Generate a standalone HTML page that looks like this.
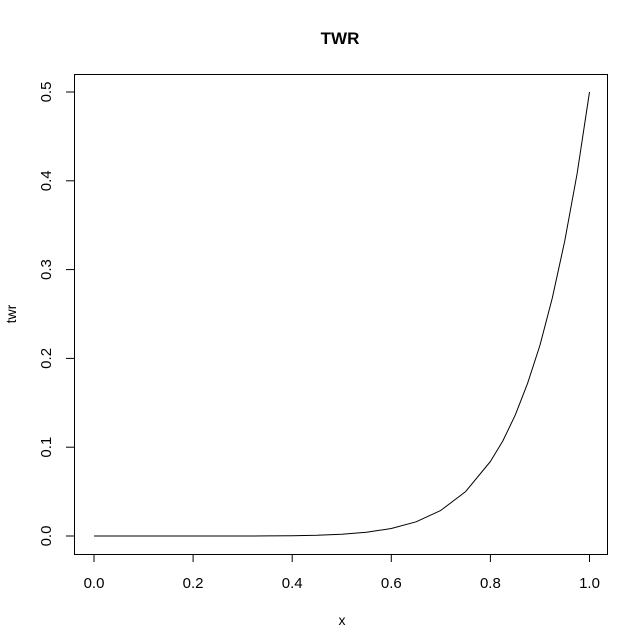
<!DOCTYPE html>
<html><head><meta charset="utf-8"><style>
body{margin:0;background:#fff;}
svg{display:block;font-family:"Liberation Sans",Arial,sans-serif;}
</style></head><body>
<svg id="chart" width="639" height="637">
<text x="340" y="44" text-anchor="middle" font-size="17" font-weight="bold">TWR</text>
<rect x="74.5" y="74.5" width="533" height="480" fill="none" stroke="#000"/>
<text x="342" y="625" text-anchor="middle" font-size="14">x</text>
<text transform="translate(16,314) rotate(-90)" text-anchor="middle" font-size="14">twr</text>
<g id="xaxis"></g>
<g id="yaxis"></g>
<path id="line" fill="none" stroke="#000" stroke-width="1" stroke-linejoin="round"/>
</svg>
<script>
const xTicks=[0,0.2,0.4,0.6,0.8,1.0];
const xTickLabels=["0.0","0.2","0.4","0.6","0.8","1.0"];
const yTicks=[0,0.1,0.2,0.3,0.4,0.5];
const yTickLabels=["0.0","0.1","0.2","0.3","0.4","0.5"];
const xs=[0,0.05,0.1,0.15,0.2,0.25,0.3,0.35,0.4,0.45,0.5,0.55,0.6,0.65,0.7,0.75,0.8,0.825,0.85,0.875,0.9,0.925,0.95,0.975,1.0];
const ys=[0,0,0,0,0,0,0,0.0001,0.0003,0.0008,0.002,0.0042,0.0084,0.016,0.0288,0.050,0.0839,0.107,0.136,0.172,0.215,0.268,0.332,0.408,0.5];
const sx=v=>94+v*495.5;
const sy=v=>536-v*888;
const NS="http://www.w3.org/2000/svg";
const xa=document.getElementById('xaxis'),ya=document.getElementById('yaxis');
xa.innerHTML='<line x1="'+sx(0)+'" x2="'+sx(1)+'" y1="554.5" y2="554.5" stroke="#000"/>';
ya.innerHTML='<line y1="'+sy(0)+'" y2="'+sy(0.5)+'" x1="74.5" x2="74.5" stroke="#000"/>';
xTicks.forEach((t,i)=>{
 const l=document.createElementNS(NS,'line');
 
 
 l.setAttribute('x1',sx(t));l.setAttribute('x2',sx(t));l.setAttribute('y1',554);l.setAttribute('y2',562);l.setAttribute('stroke','#000');
 xa.appendChild(l);
 const tx=document.createElementNS(NS,'text');
 
 
 tx.setAttribute('x',sx(t));tx.setAttribute('y',588);tx.setAttribute('text-anchor','middle');tx.setAttribute('font-size','15');
 tx.textContent=xTickLabels[i];xa.appendChild(tx);
});
yTicks.forEach((t,i)=>{
 const l=document.createElementNS(NS,'line');
 
 
 l.setAttribute('y1',sy(t));l.setAttribute('y2',sy(t));l.setAttribute('x1',66);l.setAttribute('x2',74);l.setAttribute('stroke','#000');
 ya.appendChild(l);
 const tx=document.createElementNS(NS,'text');
 
 
 tx.setAttribute('transform','translate(51,'+sy(t)+') rotate(-90)');tx.setAttribute('text-anchor','middle');tx.setAttribute('font-size','15');
 tx.textContent=yTickLabels[i];ya.appendChild(tx);
});
document.getElementById('line').setAttribute('d',xs.map((x,i)=>(i?'L':'M')+sx(x).toFixed(1)+','+sy(ys[i]).toFixed(1)).join(' '));
</script>
</body></html>
